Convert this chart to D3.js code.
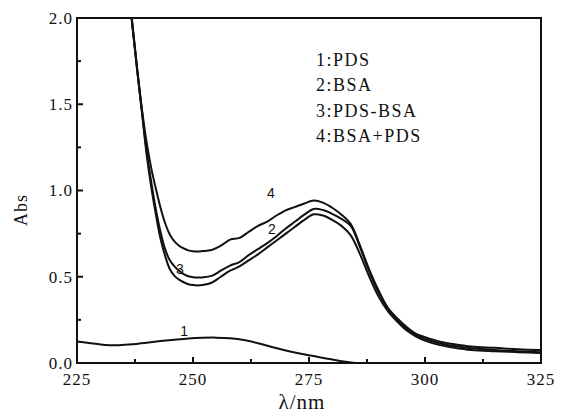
<!DOCTYPE html>
<html>
<head>
<meta charset="utf-8">
<script src="https://cdn.jsdelivr.net/npm/d3@7"></script>
<style>
  body { margin: 0; background: #fff; }
  svg text { fill: #111; font-family: "Liberation Serif", "Times New Roman", serif; }
</style>
</head>
<body>
<div id="chart"></div>
<script>
// spectra
const wl = [236, 237, 238, 239, 240, 241, 242, 243, 244, 245, 246, 247, 248, 249, 250, 251, 252,
  254, 256, 258, 260, 262, 264, 266, 268, 270, 272, 274, 276, 278, 280, 282, 284, 286, 288, 290,
  292, 294, 296, 298, 300, 303, 306, 310, 315, 320, 325];
const absBSA = [2.2, 1.94, 1.69, 1.46, 1.23, 1.05, 0.89, 0.76, 0.66, 0.595, 0.56, 0.535, 0.515, 0.503, 0.497, 0.495, 0.496,
  0.505, 0.535, 0.565, 0.585, 0.625, 0.66, 0.695, 0.735, 0.78, 0.82, 0.86, 0.893, 0.887, 0.865, 0.835, 0.795, 0.67, 0.53, 0.41,
  0.315, 0.25, 0.2, 0.165, 0.14, 0.115, 0.1, 0.085, 0.075, 0.068, 0.062];
const absPdsBsa = [2.2, 1.94, 1.69, 1.45, 1.21, 1.02, 0.86, 0.72, 0.62, 0.545, 0.505, 0.483, 0.468, 0.457, 0.452, 0.45, 0.452,
  0.465, 0.5, 0.535, 0.56, 0.595, 0.63, 0.67, 0.71, 0.75, 0.79, 0.83, 0.862, 0.855, 0.83, 0.795, 0.74, 0.63, 0.5, 0.385,
  0.3, 0.24, 0.19, 0.155, 0.13, 0.105, 0.09, 0.075, 0.068, 0.063, 0.058];
const absBsaPds = [2.22, 1.95, 1.70, 1.47, 1.28, 1.13, 1.01, 0.90, 0.81, 0.745, 0.705, 0.68, 0.664, 0.653, 0.648, 0.647, 0.649,
  0.655, 0.68, 0.715, 0.725, 0.76, 0.795, 0.82, 0.855, 0.885, 0.905, 0.925, 0.942, 0.93, 0.90, 0.86, 0.805, 0.68, 0.54, 0.42,
  0.32, 0.26, 0.21, 0.17, 0.15, 0.125, 0.11, 0.095, 0.088, 0.08, 0.075];
const wlPDS = [225, 228, 231, 234, 237, 240, 243, 246, 249, 252, 255, 258, 261, 264, 267, 270, 273, 276, 279, 282, 285];
const absPDS = [0.125, 0.115, 0.105, 0.103, 0.108, 0.118, 0.127, 0.135, 0.142, 0.146, 0.147, 0.143, 0.133, 0.115, 0.093,
  0.073, 0.055, 0.040, 0.025, 0.010, 0.0];

const legendItems = ["1:PDS", "2:BSA", "3:PDS-BSA", "4:BSA+PDS"];
const curveLabels = [
  { text: "1", wl: 248.1, abs: 0.187 },
  { text: "2", wl: 267, abs: 0.777 },
  { text: "3", wl: 247.2, abs: 0.543 },
  { text: "4", wl: 266.8, abs: 0.984 }
];
const xTicks = [225, 250, 275, 300, 325];
const xMinor = [237.5, 262.5, 287.5, 312.5];
const yTicks = [0, 0.5, 1.0, 1.5, 2.0];
const yMinor = [0.25, 0.75, 1.25, 1.75];

const width = 567;
const height = 416;
const margin = { top: 18, right: 26, bottom: 53, left: 77 };
const bottomY = height - margin.bottom;

const svg = d3.select("#chart")
  .append("svg")
  .attr("width", width)
  .attr("height", height);

const x = d3.scaleLinear()
  .domain([225, 325])
  .range([margin.left, width - margin.right]);

const y = d3.scaleLinear()
  .domain([0, 2])
  .range([bottomY, margin.top]);

svg.append("clipPath")
  .attr("id", "plot-clip")
  .append("rect")
  .attr("x", margin.left)
  .attr("y", margin.top)
  .attr("width", width - margin.left - margin.right)
  .attr("height", height - margin.top - margin.bottom);

const line = d3.line()
  .x(d => x(d[0]))
  .y(d => y(d[1]))
  .curve(d3.curveCatmullRom.alpha(0.5));

const series = [
  d3.zip(wlPDS, absPDS),
  d3.zip(wl, absBSA),
  d3.zip(wl, absPdsBsa),
  d3.zip(wl, absBsaPds)
];

svg.append("g")
  .attr("clip-path", "url(#plot-clip)")
  .selectAll("path")
  .data(series)
  .enter()
  .append("path")
  .attr("d", line)
  .attr("fill", "none")
  .attr("stroke", "#111")
  .attr("stroke-width", 2);

// ticks pointing inwards
const tickGroup = svg.append("g").attr("stroke", "#111").attr("stroke-width", 2);

tickGroup.selectAll(".xt")
  .data(xTicks.map(v => [v, 6]).concat(xMinor.map(v => [v, 4])))
  .enter()
  .append("line")
  .attr("x1", d => x(d[0]))
  .attr("x2", d => x(d[0]))
  .attr("y1", bottomY)
  .attr("y2", d => bottomY - d[1]);

tickGroup.selectAll(".yt")
  .data(yTicks.map(v => [v, 6]).concat(yMinor.map(v => [v, 4])))
  .enter()
  .append("line")
  .attr("x1", margin.left)
  .attr("x2", d => margin.left + d[1])
  .attr("y1", d => y(d[0]))
  .attr("y2", d => y(d[0]));

// tick labels
svg.append("g")
  .selectAll("text")
  .data(xTicks)
  .enter()
  .append("text")
  .attr("x", d => x(d))
  .attr("y", bottomY + 22)
  .attr("text-anchor", "middle")
  .attr("font-size", 17)
  .attr("letter-spacing", 1)
  .text(d3.format("d"));

svg.append("g")
  .selectAll("text")
  .data(yTicks)
  .enter()
  .append("text")
  .attr("x", margin.left - 4)
  .attr("y", d => y(d))
  .attr("dy", "0.35em")
  .attr("text-anchor", "end")
  .attr("font-size", 17)
  .attr("letter-spacing", 1)
  .text(d3.format(".1f"));

svg.append("rect")
  .attr("x", margin.left)
  .attr("y", margin.top)
  .attr("width", width - margin.left - margin.right)
  .attr("height", height - margin.top - margin.bottom)
  .attr("fill", "none")
  .attr("stroke", "#111")
  .attr("stroke-width", 2);

// axis titles
svg.append("text")
  .attr("transform", `translate(27,210) rotate(-90)`)
  .attr("text-anchor", "middle")
  .attr("font-size", 18)
  .attr("letter-spacing", 1)
  .text("Abs");

svg.append("text")
  .attr("x", 302)
  .attr("y", 409)
  .attr("text-anchor", "middle")
  .attr("font-size", 21)
  .attr("letter-spacing", 1)
  .text("λ/nm");

// legend
svg.append("g")
  .selectAll("text")
  .data(legendItems)
  .enter()
  .append("text")
  .attr("x", 316)
  .attr("y", (d, i) => 66 + i * 25.3)
  .attr("font-size", 18)
  .attr("letter-spacing", 1.5)
  .text(d => d);

// numbers next to the curves
svg.append("g")
  .selectAll("text")
  .data(curveLabels)
  .enter()
  .append("text")
  .attr("x", d => x(d.wl))
  .attr("y", d => y(d.abs))
  .attr("dy", "0.35em")
  .attr("text-anchor", "middle")
  .style("font-family", "\"Liberation Sans\", Arial, sans-serif")
  .attr("font-size", 14)
  .text(d => d.text);
</script>
</body>
</html>
